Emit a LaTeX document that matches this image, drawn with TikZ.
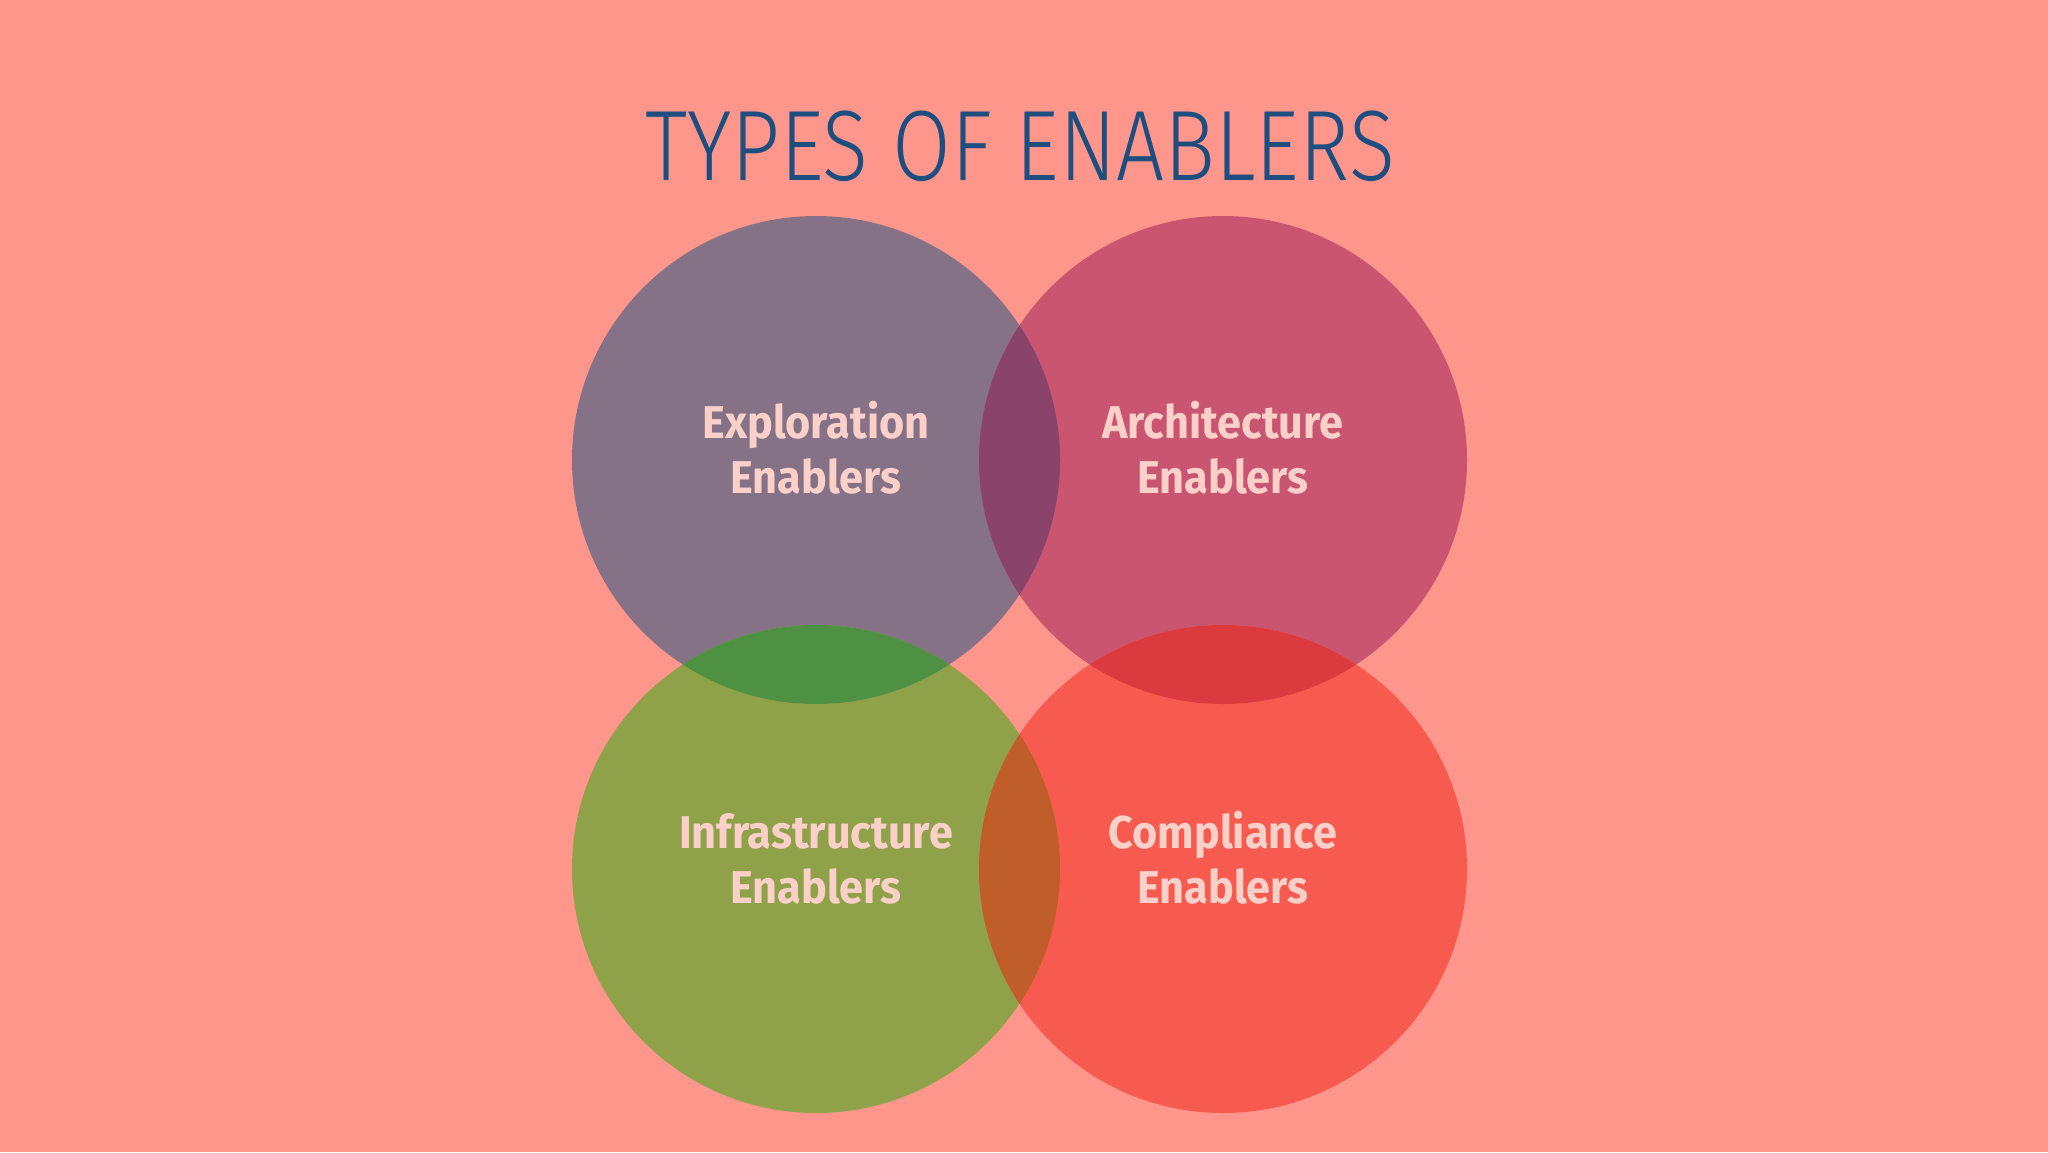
\documentclass[tikz,border=0pt]{standalone}
\usepackage{fontspec}
\setmainfont{Fira Sans}
\newfontfamily\titlefont[FakeStretch=0.85]{Fira Sans Light}
\newfontfamily\labelfont[FakeStretch=0.94]{Fira Sans}
\definecolor{bgc}{HTML}{FF968C}
\definecolor{cTL}{HTML}{857287}
\definecolor{cTR}{HTML}{C95571}
\definecolor{cBL}{HTML}{8FA24A}
\definecolor{cBR}{HTML}{F75B4F}
\definecolor{cTLTR}{HTML}{8B4469}
\definecolor{cTLBL}{HTML}{4F9143}
\definecolor{cTRBR}{HTML}{DB3B3F}
\definecolor{cBLBR}{HTML}{BF5E2B}
\definecolor{labelc}{HTML}{FBD0C9}
\definecolor{titlec}{HTML}{1C4E80}
\tikzset{
  lbl/.style={anchor=base, inner sep=0pt, text=labelc, font=\labelfont\bfseries\fontsize{46}{53}\selectfont},
  ttl/.style={anchor=base, inner sep=0pt, text=titlec, font=\titlefont\fontsize{100}{110}\selectfont}
}
\begin{document}
\begin{tikzpicture}[x=1pt,y=-1pt]
\fill[bgc] (0,0) rectangle (2048,1152);
\useasboundingbox (0,0) rectangle (2048,1152);
\def\R{244}
\coordinate (TL) at (816,460);
\coordinate (TR) at (1223,460);
\coordinate (BL) at (816,869);
\coordinate (BR) at (1223,869);
\fill[cTL] (TL) circle (\R);
\fill[cTR] (TR) circle (\R);
\fill[cBL] (BL) circle (\R);
\fill[cBR] (BR) circle (\R);
\begin{scope}
  \clip (TL) circle (\R);
  \fill[cTLTR] (TR) circle (\R);
\end{scope}
\begin{scope}
  \clip (TL) circle (\R);
  \fill[cTLBL] (BL) circle (\R);
\end{scope}
\begin{scope}
  \clip (TR) circle (\R);
  \fill[cTRBR] (BR) circle (\R);
\end{scope}
\begin{scope}
  \clip (BL) circle (\R);
  \fill[cBLBR] (BR) circle (\R);
\end{scope}
\node[ttl] (title) at (1020,180) {TYPES OF ENABLERS};
\node[lbl] (exp1) at (816,438) {Exploration};
\node[lbl] (exp2) at (816,493) {Enablers};
\node[lbl] (arc1) at (1223,438) {Architecture};
\node[lbl] (arc2) at (1223,493) {Enablers};
\node[lbl] (inf1) at (816,848) {Infrastructure};
\node[lbl] (inf2) at (816,903) {Enablers};
\node[lbl] (com1) at (1223,848) {Compliance};
\node[lbl] (com2) at (1223,903) {Enablers};
\end{tikzpicture}
\end{document}
